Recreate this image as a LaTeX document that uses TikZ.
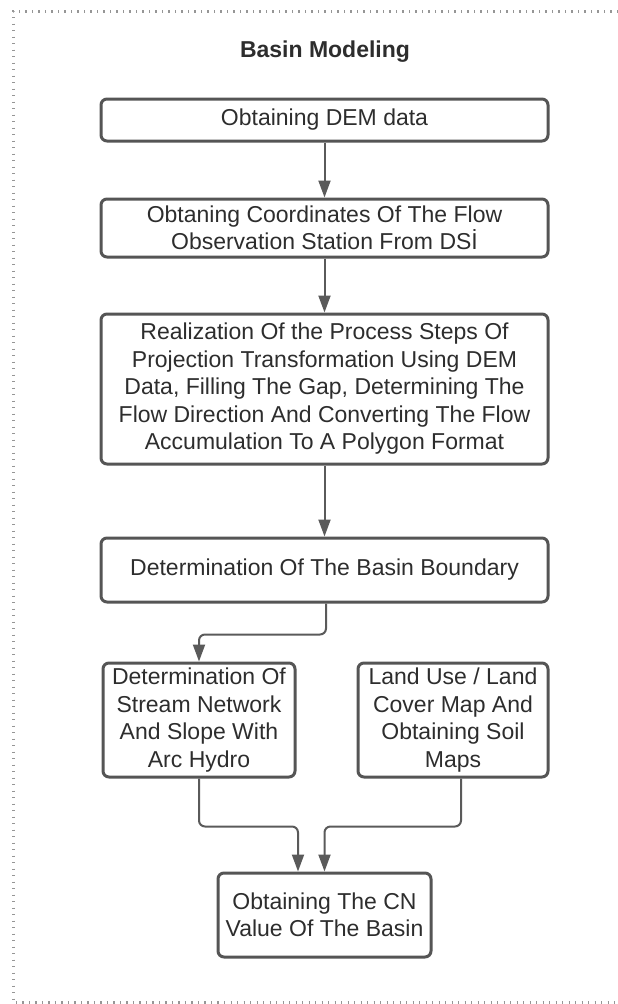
\documentclass[tikz,border=0pt]{standalone}
\usepackage{fontspec}
\setmainfont{Liberation Sans}
\usetikzlibrary{arrows.meta}
\definecolor{boxline}{RGB}{85,85,85}
\definecolor{txt}{RGB}{45,45,45}
\definecolor{conn}{RGB}{90,90,90}
\definecolor{frame}{RGB}{150,150,150}
\tikzset{
  flowbox/.style={draw=boxline, line width=3pt, rounded corners=6pt, align=center,
    text=txt, font=\fontsize{23}{27.5}\selectfont, inner sep=0pt},
  conline/.style={draw=conn, line width=2pt, rounded corners=6pt,
    -{Triangle[length=17pt,width=12pt]}},
  dotframe/.style={draw=frame, line width=3pt, dash pattern=on 1.2pt off 5.3pt}
}
\begin{document}
\begin{tikzpicture}[x=1pt,y=-1pt]
\useasboundingbox (0,0) rectangle (618,1004);
% dotted frame
\coordinate (ftr) at (618,11);
\coordinate (ftl) at (13,11);
\coordinate (fbl) at (13,1002);
\coordinate (fbr) at (618,1002);
\draw[dotframe] (ftr) -- (ftl) -- (fbl) -- (fbr);
% title
\node[text=txt, font=\fontsize{23}{27}\selectfont\bfseries] (title) at (325,52) {Basin Modeling};
% boxes
\node[flowbox, minimum width=447pt, minimum height=42pt] (b1) at (324.5,120) {Obtaining DEM data};
\node[flowbox, minimum width=447pt, minimum height=58pt] (b2) at (324.5,228)
  {Obtaning Coordinates Of The Flow\\Observation Station From DSİ};
\node[flowbox, minimum width=447pt, minimum height=150pt] (b3) at (324.5,389)
  {Realization Of the Process Steps Of\\Projection Transformation Using DEM\\Data, Filling The Gap, Determining The\\Flow Direction And Converting The Flow\\Accumulation To A Polygon Format};
\node[flowbox, minimum width=447pt, minimum height=64pt] (b4) at (324.5,570)
  {Determination Of The Basin Boundary};
\node[flowbox, minimum width=192pt, minimum height=114pt] (b5) at (199,720)
  {Determination Of\\Stream Network\\And Slope With\\Arc Hydro};
\node[flowbox, minimum width=190pt, minimum height=114pt] (b6) at (453,720)
  {Land Use / Land\\Cover Map And\\Obtaining Soil\\Maps};
\node[flowbox, minimum width=213pt, minimum height=84pt] (b7) at (324.5,915)
  {Obtaining The CN\\Value Of The Basin};
% connectors
\draw[conline] (b1.south) -- (b2.north);
\draw[conline] (b2.south) -- (b3.north);
\draw[conline] (b3.south) -- (b4.north);
\draw[conline] ([xshift=1.5pt]b4.south) -- ++(0,31) -| (b5.north);
\draw[conline] (b5.south) -- ++(0,48) -| ([xshift=-26.5pt]b7.north);
\draw[conline] ([xshift=8pt]b6.south) -- ++(0,48) -| (b7.north);
\end{tikzpicture}
\end{document}
